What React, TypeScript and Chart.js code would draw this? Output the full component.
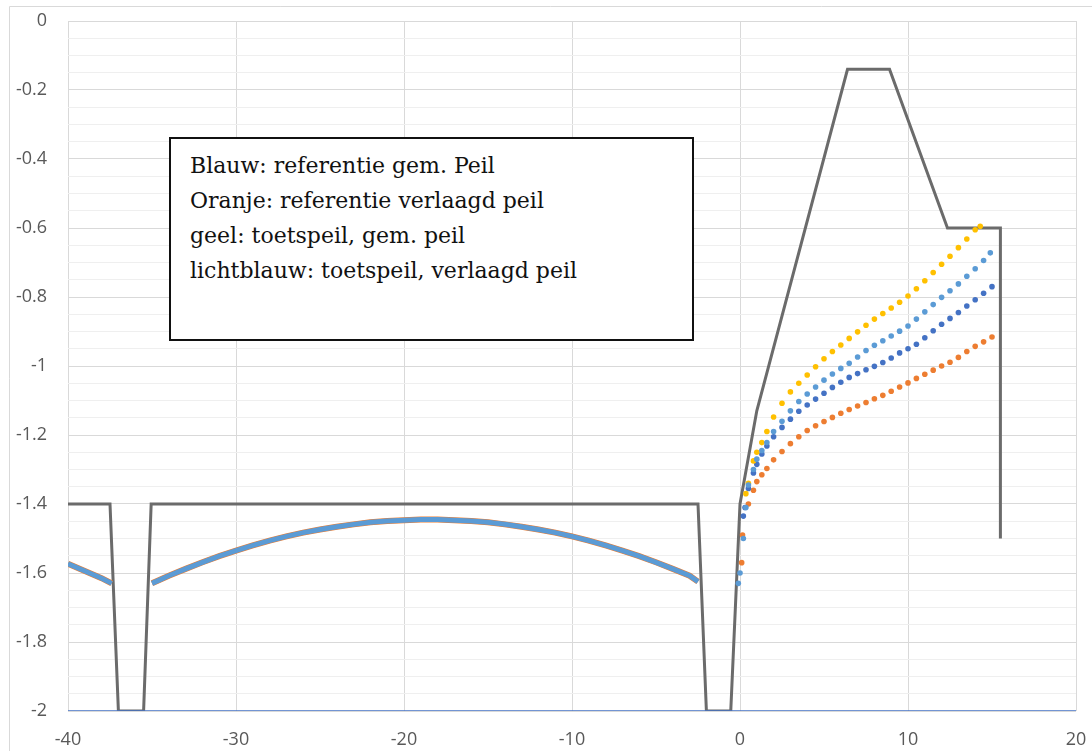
import React, { useEffect, useRef } from "react";
import { Chart, registerables } from "chart.js";

Chart.register(...registerables);

// Axis settings
const X_MIN = -40;
const X_MAX = 20;
const X_STEP = 10;
const Y_MIN = -2;
const Y_MAX = 0;
const Y_MINOR_STEP = 0.05;
const Y_MAJOR_STEP = 0.2;

// Grey profile (dike cross-section)
const profileX = [-40, -37.5, -37, -35.5, -35.05, -2.5, -2, -0.55, 0, 1, 6.4, 8.9, 12.35, 15.5, 15.5];
const profileY = [-1.4, -1.4, -2, -2, -1.4, -1.4, -2, -2, -1.4, -1.13, -0.14, -0.14, -0.6, -0.6, -1.5];

// Baseline at -2
const baseX = [-40, 20];
const baseY = [-2, -2];

// Arch (overlapping series on the left side)
const archLeftX = [-40, -39, -38, -37.4];
const archLeftY = [-1.573, -1.594, -1.615, -1.63];
const archMainX = [-35, -34, -33, -32, -31, -30, -29, -28, -27, -26, -25, -24, -23, -22, -21, -20, -19, -18, -17, -16, -15, -14, -13, -12, -11, -10, -9, -8, -7, -6, -5, -4, -3, -2.5];
const archMainY = [-1.63, -1.608, -1.588, -1.569, -1.551, -1.535, -1.52, -1.506, -1.494, -1.483, -1.474, -1.466, -1.459, -1.453, -1.449, -1.447, -1.445, -1.445, -1.447, -1.449, -1.453, -1.459, -1.466, -1.474, -1.483, -1.494, -1.506, -1.52, -1.535, -1.551, -1.569, -1.588, -1.608, -1.625];

// Blauw: referentie gem. peil
const blauwX = [0.2, 0.3, 0.5, 0.8, 1.0, 1.3, 1.6, 2.0, 2.5, 3.0, 3.5, 4.0, 4.5, 5.0, 5.5, 6.0, 6.5, 7.0, 7.5, 8.0, 8.5, 9.0, 9.5, 10.0, 10.5, 11.0, 11.5, 12.0, 12.5, 13.0, 13.5, 14.0, 14.5, 15.0];
const blauwY = [-1.435, -1.41, -1.355, -1.31, -1.285, -1.255, -1.232, -1.205, -1.178, -1.154, -1.131, -1.113, -1.096, -1.079, -1.062, -1.047, -1.033, -1.022, -1.011, -1.001, -0.99, -0.977, -0.962, -0.95, -0.937, -0.918, -0.898, -0.879, -0.862, -0.845, -0.826, -0.808, -0.789, -0.77];

// Oranje: referentie verlaagd peil
const oranjeX = [0.1, 0.15, 0.5, 0.8, 1.0, 1.3, 1.6, 2.0, 2.5, 3.0, 3.5, 4.0, 4.5, 5.0, 5.5, 6.0, 6.5, 7.0, 7.5, 8.0, 8.5, 9.0, 9.5, 10.0, 10.5, 11.0, 11.5, 12.0, 12.5, 13.0, 13.5, 14.0, 14.5, 15.0];
const oranjeY = [-1.57, -1.49, -1.4, -1.36, -1.335, -1.315, -1.297, -1.272, -1.248, -1.225, -1.205, -1.187, -1.173, -1.161, -1.149, -1.137, -1.126, -1.116, -1.106, -1.095, -1.085, -1.073, -1.061, -1.049, -1.036, -1.024, -1.012, -1.0, -0.989, -0.975, -0.958, -0.943, -0.93, -0.916];

// Geel: toetspeil, gem. peil
const geelX = [0.35, 0.5, 0.8, 1.0, 1.3, 1.6, 2.0, 2.5, 3.0, 3.5, 4.0, 4.5, 5.0, 5.5, 6.0, 6.5, 7.0, 7.5, 8.0, 8.5, 9.0, 9.5, 10.0, 10.5, 11.0, 11.5, 12.0, 12.5, 13.0, 13.5, 14.0, 14.3];
const geelY = [-1.37, -1.34, -1.275, -1.25, -1.222, -1.19, -1.148, -1.108, -1.075, -1.05, -1.026, -1.002, -0.979, -0.958, -0.939, -0.92, -0.901, -0.882, -0.864, -0.848, -0.832, -0.815, -0.797, -0.776, -0.753, -0.729, -0.705, -0.682, -0.657, -0.632, -0.605, -0.595];

// Lichtblauw: toetspeil, verlaagd peil
const lichtblauwX = [-0.1, 0.0, 0.2, 0.35, 0.5, 0.8, 1.0, 1.3, 1.6, 2.0, 2.5, 3.0, 3.5, 4.0, 4.5, 5.0, 5.5, 6.0, 6.5, 7.0, 7.5, 8.0, 8.5, 9.0, 9.5, 10.0, 10.5, 11.0, 11.5, 12.0, 12.5, 13.0, 13.5, 14.0, 14.5, 14.9];
const lichtblauwY = [-1.63, -1.6, -1.5, -1.41, -1.345, -1.3, -1.27, -1.245, -1.222, -1.19, -1.16, -1.13, -1.103, -1.081, -1.061, -1.041, -1.023, -1.007, -0.992, -0.974, -0.955, -0.94, -0.927, -0.913, -0.899, -0.884, -0.864, -0.843, -0.822, -0.801, -0.782, -0.762, -0.74, -0.718, -0.694, -0.672];

const noteLines = [
  "Blauw: referentie gem. Peil",
  "Oranje: referentie verlaagd peil",
  "geel: toetspeil, gem. peil",
  "lichtblauw: toetspeil, verlaagd peil",
];

const zip = (xs: number[], ys: number[]) => xs.map((x, i) => ({ x, y: ys[i] }));

const isMajor = (v: number) => {
  const r = v / Y_MAJOR_STEP;
  return Math.abs(r - Math.round(r)) < 1e-6;
};

const fmt = (v: number) => String(Math.round(v * 10) / 10);

export default function App() {
  const canvasRef = useRef<HTMLCanvasElement | null>(null);

  useEffect(() => {
    const canvas = canvasRef.current;
    if (!canvas) return;

    const archData = [
      ...zip(archLeftX, archLeftY),
      { x: -36.2, y: null as any },
      ...zip(archMainX, archMainY),
    ];

    const framePlugin = {
      id: "frame",
      beforeDraw(chart: any) {
        const ctx = chart.ctx;
        ctx.save();
        ctx.strokeStyle = "#d9d9d9";
        ctx.lineWidth = 1;
        ctx.beginPath();
        ctx.moveTo(9.5, 751);
        ctx.lineTo(9.5, 6.5);
        ctx.lineTo(1092, 6.5);
        ctx.stroke();
        ctx.restore();
      },
    };

    const dots = (data: any[], color: string) => ({
      data,
      showLine: false,
      backgroundColor: color,
      borderColor: color,
      pointRadius: 2.8,
      pointBorderWidth: 0,
      pointHoverRadius: 2.8,
    });

    const chart = new Chart(canvas, {
      type: "scatter",
      data: {
        datasets: [
          dots(zip(lichtblauwX, lichtblauwY), "#5B9BD5"),
          dots(zip(geelX, geelY), "#FFC000"),
          dots(zip(blauwX, blauwY), "#4472C4"),
          dots(zip(oranjeX, oranjeY), "#ED7D31"),
          {
            data: archData,
            showLine: true,
            spanGaps: false,
            borderColor: "#5B9BD5",
            borderWidth: 5,
            pointRadius: 0,
          },
          {
            data: archData,
            showLine: true,
            spanGaps: false,
            borderColor: "#ED7D31",
            borderWidth: 6,
            pointRadius: 0,
          },
          {
            data: zip(baseX, baseY),
            showLine: true,
            borderColor: "#4472C4",
            borderWidth: 1.5,
            pointRadius: 0,
          },
          {
            data: zip(profileX, profileY),
            showLine: true,
            borderColor: "#6b6b6b",
            borderWidth: 3,
            borderJoinStyle: "miter",
            pointRadius: 0,
          },
        ] as any,
      },
      options: {
        animation: false,
        responsive: false,
        devicePixelRatio: 1,
        layout: { padding: { top: 21, right: 16, left: 0, bottom: 0 } },
        plugins: {
          legend: { display: false },
          tooltip: { enabled: false },
        },
        events: [],
        scales: {
          x: {
            type: "linear",
            min: X_MIN,
            max: X_MAX,
            afterFit: (s: any) => {
              s.height = 40;
              s.paddingLeft = 0;
              s.paddingRight = 0;
              s.paddingTop = 0;
              s.paddingBottom = 0;
            },
            border: { display: false },
            grid: { color: "#d9d9d9", lineWidth: 1, drawTicks: false },
            ticks: {
              stepSize: X_STEP,
              padding: 18,
              color: "#595959",
              font: { family: "'Open Sans'", size: 18 },
              maxRotation: 0,
              autoSkip: false,
              callback: (v: any) => String(v),
            },
          },
          y: {
            type: "linear",
            min: Y_MIN,
            max: Y_MAX,
            afterFit: (s: any) => {
              s.width = 68;
              s.paddingLeft = 0;
              s.paddingRight = 0;
              s.paddingTop = 0;
              s.paddingBottom = 0;
            },
            border: { display: false },
            grid: {
              drawTicks: false,
              lineWidth: 1,
              color: (ctx: any) => (ctx.tick && isMajor(ctx.tick.value) ? "#d9d9d9" : "#efefef"),
            },
            ticks: {
              stepSize: Y_MINOR_STEP,
              autoSkip: false,
              padding: 21,
              color: "#595959",
              font: { family: "'Open Sans'", size: 18 },
              callback: (v: any) => (isMajor(Number(v)) ? fmt(Number(v)) : ""),
            },
          },
        },
      } as any,
      plugins: [framePlugin],
    });

    return () => chart.destroy();
  }, []);

  return (
    <div style={{ position: "fixed", left: 0, top: 0, width: 1092, height: 751, background: "#fff" }}>
      <canvas ref={canvasRef} width={1092} height={751} style={{ display: "block" }} />
      <div
        style={{
          position: "absolute",
          left: 169,
          top: 137,
          width: 525,
          height: 204,
          boxSizing: "border-box",
          border: "2px solid #111",
          background: "#fff",
          paddingTop: 9,
          paddingLeft: 19,
          fontFamily: "'DejaVu Serif', serif",
          fontSize: 22,
          lineHeight: "35px",
          color: "#111",
          whiteSpace: "nowrap",
        }}
      >
        {noteLines.map((t) => (
          <div key={t}>{t}</div>
        ))}
      </div>
    </div>
  );
}
